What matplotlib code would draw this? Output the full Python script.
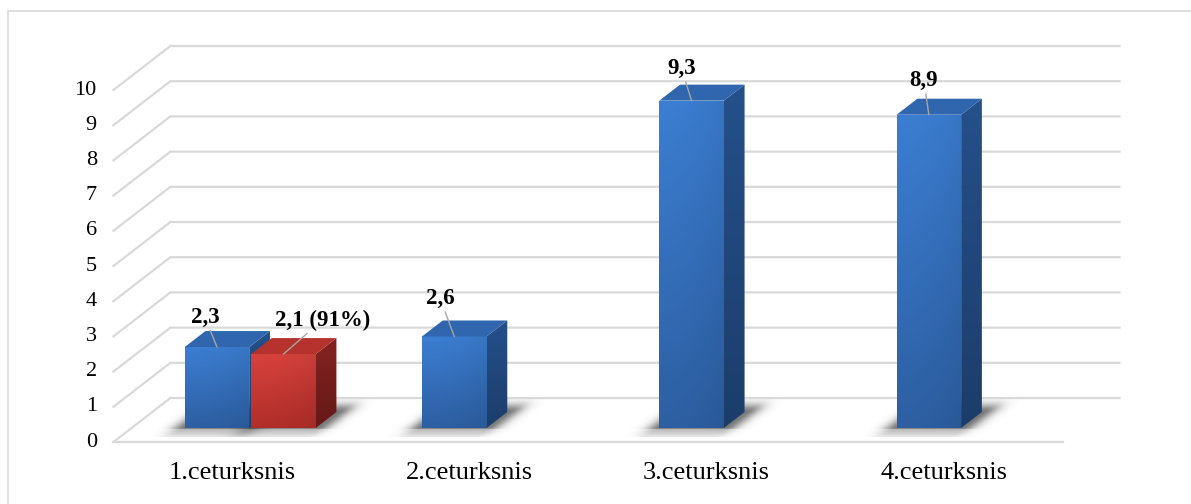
import numpy as np
import matplotlib
matplotlib.use('Agg')
import matplotlib.pyplot as plt
from matplotlib.patches import Polygon, Rectangle
from matplotlib.colors import to_rgb

categories = ['1.ceturksnis', '2.ceturksnis', '3.ceturksnis', '4.ceturksnis']
series1 = [2.3, 2.6, 9.3, 8.9]
series2 = [2.1, None, None, None]
labels1 = ['2,3', '2,6', '9,3', '8,9']
labels2 = ['2,1 (91%)', None, None, None]
yticks = list(range(0, 11))

# pseudo 3-D geometry, in data units
DX, DY = 0.240, 1.25      # shift from front to back of the floor
D0, D1 = 0.318, 0.682     # depth range of the bars (fraction of floor depth)
BW = 0.272                # bar width
OFF = 0.14                # cluster offset of the two series
XPX, YPX = 237.3, 35.2    # pixels per data unit

FONT = 'Liberation Serif'
GRID = '#d9d9d9'

blue = dict(top='#3c7ed2', bottom='#2d5fa2', side=('#25508a', '#1c3d6a'),
            cap='#3066ad')
red = dict(top='#d8423d', bottom='#b02e29', side=('#842321', '#651917'),
           cap='#b5322d')


def proj(x, v, d):
    return (x + d * DX, v + d * DY)


def gradient_patch(ax, pts, c0, c1, z, horizontal=0.0):
    poly = Polygon(pts, closed=True, facecolor='none', edgecolor='none')
    ax.add_patch(poly)
    xs = [p[0] for p in pts]
    ys = [p[1] for p in pts]
    t = np.linspace(0, 1, 120)[:, None, None]
    hx = np.linspace(0, 1, 40)[None, :, None]
    img = np.array(to_rgb(c0)) * (1 - t) + np.array(to_rgb(c1)) * t
    img = np.clip(img * (1.0 - horizontal * hx ** 2), 0, 1)
    im = ax.imshow(img, extent=[min(xs), max(xs), min(ys), max(ys)],
                   origin='upper', aspect='auto', interpolation='bilinear',
                   zorder=z)
    im.set_clip_path(poly)


def draw_shadow(ax, xl, xr):
    x0, y0 = proj(xl - 0.14, 0, 0.12)
    x1, y1 = proj(xr + 0.28, 0, 0.98)
    gx = np.linspace(x0, x1, 180)
    gy = np.linspace(y0, y1, 70)
    X, Y = np.meshgrid(gx, gy)
    d = Y / DY
    xf = X - d * DX
    # distance (in pixels) outside the bar footprint on the floor
    ddx = np.maximum(np.maximum(xl - xf, xf - xr), 0) * XPX
    ddd = np.maximum(np.maximum(D0 - d, d - D1), 0) * 44
    dist = np.hypot(ddx, ddd * 1.5)
    alpha = 0.7 * np.exp(-(dist / 13.0) ** 2)
    alpha[d < D0 - 0.02] *= 0.5
    img = np.zeros(X.shape + (4,))
    img[..., :3] = 0.25
    img[..., 3] = alpha
    ax.imshow(img, extent=[x0, x1, y0, y1], origin='lower', aspect='auto',
              interpolation='bilinear', zorder=2)


def draw_bar(ax, xc, h, col, z):
    xl, xr = xc - BW / 2, xc + BW / 2
    draw_shadow(ax, xl, xr)

    front = [proj(xl, 0, D0), proj(xr, 0, D0), proj(xr, h, D0), proj(xl, h, D0)]
    gradient_patch(ax, front, col['top'], col['bottom'], z, horizontal=0.07)

    side = [proj(xr, 0, D0), proj(xr, 0, D1), proj(xr, h, D1), proj(xr, h, D0)]
    gradient_patch(ax, side, col['side'][0], col['side'][1], z)

    top = [proj(xl, h, D0), proj(xr, h, D0), proj(xr, h, D1), proj(xl, h, D1)]
    ax.add_patch(Polygon(top, closed=True, facecolor=col['cap'],
                         edgecolor='none', zorder=z))
    return proj(xc, h, D0)


fig = plt.figure(figsize=(11.91, 5.04), dpi=100)
ax = fig.add_axes([0, 0, 1, 1])
ax.axis('off')

# outer chart border
fig.patches.append(Rectangle((8 / 1191, -0.1), 1.2, 1.078, transform=fig.transFigure,
                             fill=False, edgecolor=GRID, lw=1.2))

# walls / gridlines
for v in yticks:
    pts = [proj(-0.5, v, 0), proj(-0.5, v, 1), proj(3.5, v, 1)]
    ax.plot([p[0] for p in pts], [p[1] for p in pts], color=GRID, lw=1.6,
            zorder=1, solid_joinstyle='miter')
    ax.text(-0.57, v, str(v), ha='right', va='center', fontsize=16,
            family=FONT)
f0, f1 = proj(-0.5, 0, 0), proj(3.5, 0, 0)
ax.plot([f0[0], f1[0]], [f0[1], f1[1]], color=GRID, lw=1.6, zorder=1)

for i, cat in enumerate(categories):
    ax.text(i, -0.88, cat, ha='center', va='center', fontsize=19, family=FONT)

offsets1 = [(-12, 30), (-14, 38), (-10, 32), (-5, 34)]
offsets2 = [(39, 34), None, None, None]

for i in range(len(categories)):
    anchor = draw_bar(ax, i - OFF, series1[i], blue, 3 + i)
    ax.annotate(labels1[i], xy=anchor, xytext=offsets1[i],
                textcoords='offset pixels', ha='center', va='center',
                fontsize=16.5, fontweight='bold', family=FONT, zorder=20,
                arrowprops=dict(arrowstyle='-', color='#a6a6a6', lw=1,
                                shrinkA=0, shrinkB=0))
    if series2[i] is not None:
        anchor = draw_bar(ax, i + OFF, series2[i], red, 3.5 + i)
        ax.annotate(labels2[i], xy=anchor, xytext=offsets2[i],
                    textcoords='offset pixels', ha='center', va='center',
                    fontsize=16.5, fontweight='bold', family=FONT, zorder=20,
                    arrowprops=dict(arrowstyle='-', color='#a6a6a6', lw=1,
                                    shrinkA=0, shrinkB=0))

ax.set_xlim(-0.978, 4.041)
ax.set_ylim(-1.761, 12.557)

fig.savefig('out.png', dpi=100)
